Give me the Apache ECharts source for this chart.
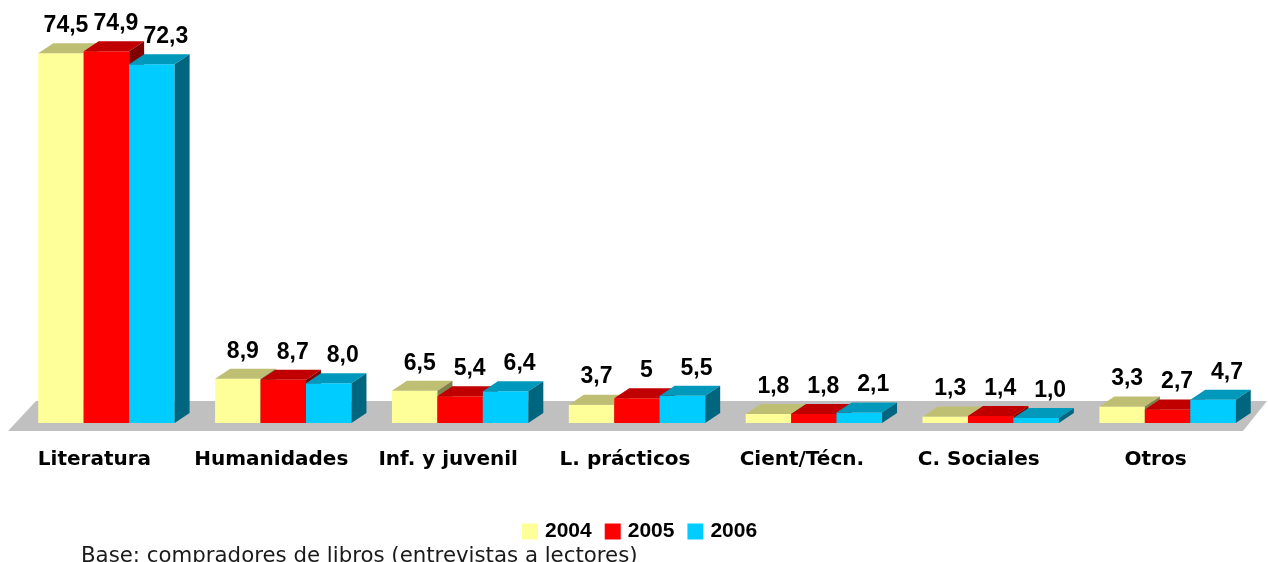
<!DOCTYPE html>
<html>
<head>
<meta charset="utf-8">
<script src="https://cdn.jsdelivr.net/npm/echarts@6/dist/echarts.min.js"></script>
<style>
  html, body { margin: 0; padding: 0; background: #fff; }
  #chart { width: 1268px; height: 562px; }
</style>
</head>
<body>
<div id="chart"></div>
<script>
// categorias y valores (%)
const categories = ['Literatura', 'Humanidades', 'Inf. y juvenil', 'L. prácticos', 'Cient/Técn.', 'C. Sociales', 'Otros']
const years = ['2004', '2005', '2006']
const values2004 = [74.5, 8.9, 6.5, 3.7, 1.8, 1.3, 3.3]
const values2005 = [74.9, 8.7, 5.4, 5, 1.8, 1.4, 2.7]
const values2006 = [72.3, 8.0, 6.4, 5.5, 2.1, 1.0, 4.7]
const labels2004 = ['74,5', '8,9', '6,5', '3,7', '1,8', '1,3', '3,3']
const labels2005 = ['74,9', '8,7', '5,4', '5', '1,8', '1,4', '2,7']
const labels2006 = ['72,3', '8,0', '6,4', '5,5', '2,1', '1,0', '4,7']

const faceColors = [
  { front: '#FFFF99', top: '#BFBF73', side: '#80804D' },
  { front: '#FF0000', top: '#C00000', side: '#800000' },
  { front: '#00CCFF', top: '#0099BB', side: '#006680' }
]
const DX = 15
const DY = 10

// dibuja una barra "3D": frente, techo y lateral
function makeBar (s, labels) {
  return function (params, api) {
    const idx = api.value(0)
    const base = api.coord([idx, 0])
    const top = api.coord([idx, api.value(1)])
    const band = api.size([1, 0])[0]
    const bw = band * 0.257
    const x0 = base[0] - bw * 1.5 + s * bw
    const x1 = x0 + bw
    const y0 = base[1]
    const y1 = top[1]
    const c = faceColors[s]
    return {
      type: 'group',
      children: [
        { type: 'rect', shape: { x: x0, y: y1, width: bw, height: y0 - y1 }, style: { fill: c.front } },
        { type: 'polygon', shape: { points: [[x0, y1], [x1, y1], [x1 + DX, y1 - DY], [x0 + DX, y1 - DY]] }, style: { fill: c.top } },
        { type: 'polygon', shape: { points: [[x1, y1], [x1 + DX, y1 - DY], [x1 + DX, y0 - DY], [x1, y0]] }, style: { fill: c.side } },
        {
          type: 'text',
          style: {
            text: labels[idx],
            x: (x0 + x1) / 2 + 5 + s * 4.5,
            y: y1 - DY - 6,
            align: 'center',
            verticalAlign: 'bottom',
            font: 'bold 23px "Liberation Sans"',
            fill: '#000'
          }
        }
      ]
    }
  }
}

// suelo gris
function renderFloor (params, api) {
  const cs = params.coordSys
  const y0 = api.coord([0, 0])[1]
  return {
    type: 'polygon',
    shape: {
      points: [
        [cs.x - 10, y0 + 8],
        [cs.x + cs.width - 13, y0 + 8],
        [cs.x + cs.width + 11, y0 - 22],
        [cs.x + 18, y0 - 22]
      ]
    },
    style: { fill: '#C0C0C0' }
  }
}

const seriesValues = [values2004, values2005, values2006]
const seriesLabels = [labels2004, labels2005, labels2006]

const chart = echarts.init(document.getElementById('chart'))
const option = {
  animation: false,
  grid: { left: 18, right: 12, top: 26, bottom: 139 },
  legend: {
    data: years,
    top: 516,
    left: 517,
    icon: 'rect',
    itemWidth: 16,
    itemHeight: 16,
    itemGap: 13,
    textStyle: { fontFamily: 'Liberation Sans', fontWeight: 'bold', fontSize: 21, color: '#000', padding: [0, 0, 0, 2] }
  },
  xAxis: {
    type: 'category',
    data: categories,
    axisLine: { show: false },
    axisTick: { show: false },
    axisLabel: {
      interval: 0,
      margin: 27,
      padding: [0, 24, 0, 0],
      fontFamily: 'DejaVu Sans',
      fontWeight: 'bold',
      fontSize: 20,
      color: '#000'
    }
  },
  yAxis: { type: 'value', min: 0, max: 80, show: false, splitLine: { show: false } },
  graphic: [{
    type: 'text',
    left: 81,
    top: 546,
    style: { text: 'Base: compradores de libros (entrevistas a lectores)', font: '21.3px "DejaVu Sans"', fill: '#1a1a1a' }
  }],
  series: [
    {
      name: 'suelo',
      type: 'custom',
      renderItem: renderFloor,
      data: [[0, 0]],
      silent: true,
      z: 1
    }
  ].concat(years.map((y, s) => ({
    name: y,
    type: 'custom',
    renderItem: makeBar(s, seriesLabels[s]),
    itemStyle: { color: faceColors[s].front },
    encode: { x: 0, y: 1 },
    data: seriesValues[s].map((v, i) => [i, v]),
    z: 2
  })))
}
chart.setOption(option)
</script>
</body>
</html>
